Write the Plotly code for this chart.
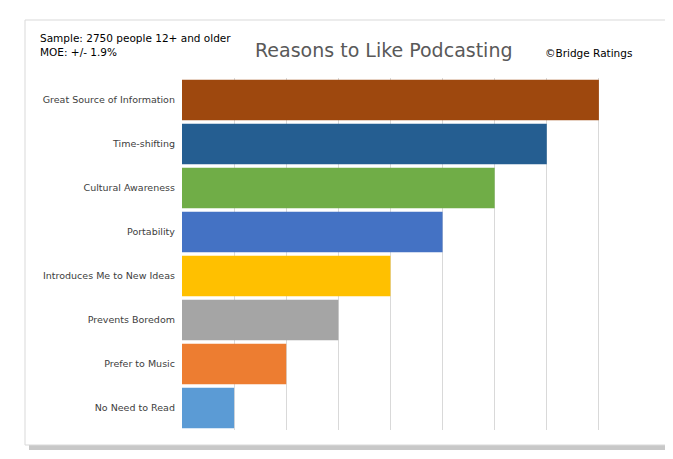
import plotly.graph_objects as go

categories = ["Great Source of Information", "Time-shifting", "Cultural Awareness", "Portability",
              "Introduces Me to New Ideas", "Prevents Boredom", "Prefer to Music", "No Need to Read"]
values = [8, 7, 6, 5, 4, 3, 2, 1]
colors = ["#9E480E", "#255E91", "#70AD47", "#4472C4", "#FFC000", "#A5A5A5", "#ED7D31", "#5B9BD5"]

W, H = 673, 459
L, R, T, B = 174, 30, 70, 37
pw, ph = W - L - R, H - T - B
def px(x): return (x - L) / pw
def py(y): return (H - B - y) / ph

fig = go.Figure(go.Bar(y=categories, x=values, orientation="h", marker=dict(color=colors, line_width=0),
                       width=0.92))
fig.update_layout(
    width=W, height=H, margin=dict(l=L, r=R, t=T, b=B, autoexpand=False),
    paper_bgcolor="white", plot_bgcolor="white", showlegend=False,
    font=dict(family="DejaVu Sans", size=10, color="#404040"),
    xaxis=dict(range=[0, 9], dtick=1, showgrid=True, gridcolor="#D9D9D9", showticklabels=False,
               zeroline=False, fixedrange=True, automargin=False),
    yaxis=dict(autorange="reversed", showgrid=False, ticks="", ticklen=0, ticksuffix="  ",
               automargin=False, tickfont=dict(size=9.5, color="#404040")),
    shapes=[
        dict(type="rect", xref="paper", yref="paper", x0=px(21), x1=px(665), y0=py(442), y1=py(16),
             fillcolor="#C8C8C8", line_width=0, layer="below"),
        dict(type="rect", xref="paper", yref="paper", x0=px(17), x1=px(660), y0=py(437), y1=py(12),
             fillcolor="white", line=dict(color="#D9D9D9", width=1), layer="below"),
    ],
    annotations=[
        dict(text="Sample: 2750 people 12+ and older<br>MOE: +/- 1.9%", xref="paper", yref="paper",
             x=px(30), y=py(22), xanchor="left", yanchor="top", showarrow=False, align="left",
             font=dict(size=10.5, color="#000000")),
        dict(text="Reasons to Like Podcasting", xref="paper", yref="paper", x=px(376), y=py(42),
             xanchor="center", yanchor="middle", showarrow=False, font=dict(size=19, color="#595959")),
        dict(text="©Bridge Ratings", xref="paper", yref="paper", x=px(535), y=py(45),
             xanchor="left", yanchor="middle", showarrow=False, font=dict(size=10.5, color="#000000")),
    ],
)
fig.write_html("out.html")
